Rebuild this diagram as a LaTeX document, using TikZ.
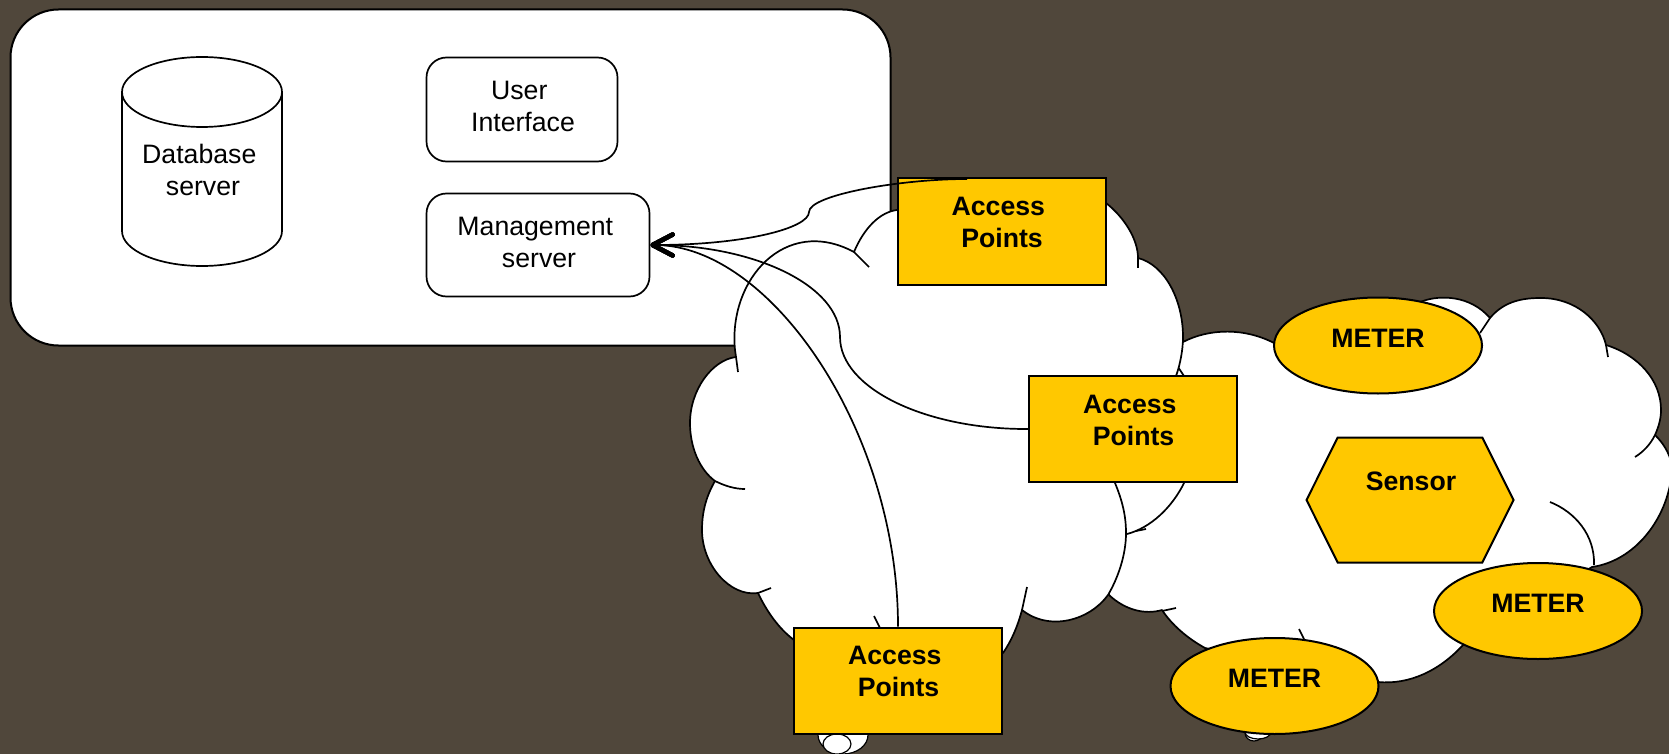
\documentclass[tikz,border=0pt]{standalone}
\usepackage{fontspec}
\setmainfont{Liberation Sans}
\usetikzlibrary{arrows.meta,shapes.geometric,shapes.symbols}
\definecolor{bgbrown}{HTML}{50473B}
\definecolor{boxyellow}{HTML}{FFC800}
\newcommand{\trailsp}{~\mbox{}}
\begin{document}
\begin{tikzpicture}[x=1pt, y=-1pt, line width=1.7pt,
    plaintext/.style={align=center, inner sep=0pt, font=\fontsize{26.67}{32}\selectfont},
    boldtext/.style={plaintext, font=\fontsize{26.67}{32}\selectfont\bfseries},
    roundbox/.style={draw, fill=white, rounded corners=20pt, inner sep=0pt},
    apbox/.style={draw, line width=2pt, fill=boxyellow, minimum width=208pt, minimum height=106pt, inner sep=0pt},
    meter/.style={draw, line width=2pt, fill=boxyellow, ellipse, minimum width=208pt, minimum height=96pt, inner sep=0pt},
    cloudpart/.style={draw, fill=white, line join=round},
    conn/.style={-{Straight Barb[length=20pt, width=21pt, line width=4.6pt, round]}}]

    \useasboundingbox (0,0) rectangle (1669,754);
    \fill[bgbrown] (0,0) rectangle (1669,755);

    % Server panel
    \node[draw, line width=2pt, fill=white, rounded corners=48pt, minimum width=880pt, minimum height=336pt, inner sep=0pt] (Panel) at (450.5,177.5) {};
    \draw[fill=white] (122,92) -- (122,231) .. controls (122,250.3) and (157.8,266) .. (202,266)
        .. controls (246.2,266) and (282,250.3) .. (282,231) -- (282,92) -- cycle;
    \draw[fill=white] (202,92) ellipse (80 and 35);
    \node[plaintext] (DBtext) at (203,170) {Database\trailsp\\server};
    \node[roundbox, minimum width=191pt, minimum height=104pt] (UI) at (522,109.5) {};
    \node[plaintext] (UItext) at (523,106) {User\trailsp\\Interface};
    \node[roundbox, minimum width=223pt, minimum height=103pt] (Mgmt) at (538,245) {};
    \node[plaintext] (Mgmttext) at (539,242) {Management\trailsp\\server};

    % Cloud on the right
    \fill[white, draw=black, line width=1.2pt] (1254,733) ellipse (9 and 8);
    \fill[white, draw=black, line width=1.2pt] (1258,732) ellipse (13 and 7);
    \path[cloudpart] (1109,595) -- (1100,450) -- (1170,345) -- (1183,342)
        .. controls (1210,328) and (1245,328) .. (1274,343)
        -- (1423,301)
        .. controls (1440,295) and (1470,295) .. (1490,318)
        .. controls (1505,300) and (1525,298) .. (1541,298)
        .. controls (1575,298) and (1600,320) .. (1606,345)
        .. controls (1638,355) and (1661,380) .. (1661,410)
        .. controls (1661,420) and (1658,428) .. (1655,435)
        .. controls (1663,443) and (1669,452) .. (1672,465)
        .. controls (1672,510) and (1640,560) .. (1592,567)
        -- (1463,645)
        .. controls (1440,670) and (1410,685) .. (1378,682)
        -- (1205,648)
        .. controls (1187,638) and (1172,625) .. (1162,610)
        .. controls (1145,615) and (1125,610) .. (1109,595) -- cycle;
    \draw (1490,318) -- (1480,333);
    \draw (1606,345) -- (1608,357);
    \draw (1655,435) .. controls (1650,445) and (1643,452) .. (1635,457);
    \draw (1594,565) .. controls (1595,535) and (1575,512) .. (1550,502);
    \draw (1127,534) .. controls (1150,528) and (1172,508) .. (1184.5,482);
    \draw (1136,531) -- (1146,529);
    \draw (1178,367) -- (1184,376);
    \draw (1299,629) -- (1304,639);
    \draw (1162,611) -- (1176,608);

    % Cloud in the middle
    \fill[white, draw=black, line width=1.2pt] (843,735) ellipse (25 and 19);
    \fill[white, draw=black, line width=1.2pt] (837,744) ellipse (14 and 10);
    \path[cloudpart] (735,350)
        .. controls (728,280) and (785,215) .. (854,252)
        .. controls (864,228) and (880,212) .. (897,210)
        .. controls (940,195) and (1060,190) .. (1106,203)
        .. controls (1125,218) and (1138,240) .. (1138,258)
        .. controls (1165,265) and (1183,300) .. (1183,337)
        .. controls (1183,350) and (1180,365) .. (1176,376)
        -- (1115,483)
        .. controls (1122,500) and (1126,515) .. (1126,533)
        .. controls (1126,555) and (1118,578) .. (1108,595)
        .. controls (1090,620) and (1050,632) .. (1022,610)
        .. controls (1018,625) and (1012,640) .. (1003,653)
        -- (794,640)
        .. controls (778,628) and (766,610) .. (758,593)
        .. controls (730,597) and (702,565) .. (702,530)
        .. controls (702,510) and (707,495) .. (715,481)
        .. controls (700,470) and (690,448) .. (690,423)
        .. controls (690,390) and (712,360) .. (736,357) -- cycle;
    \draw (854,252) -- (869,267);
    \draw (1138,258) -- (1138,268);
    \draw (736,357) -- (738,372);
    \draw (715,481) .. controls (725,486) and (735,489) .. (745,489);
    \draw (758,593) -- (771,588);
    \draw (1022,610) -- (1027,587);
    \draw (874,616) -- (880,628);

    % Access points
    \foreach \n/\x/\y in {1/1001.5/231.5, 2/1133/429, 3/898/680.5} {
        \node[apbox] (AP\n) at (\x,\y) {};
        \node[boldtext] (APtext\n) at ([yshift=9pt, xshift=.5pt]AP\n.center) {Access\trailsp\\Points};
    }

    % Meters
    \foreach \n/\x/\y in {1/1378/345.5, 2/1538/611, 3/1274.5/686} {
        \node[meter] (M\n) at (\x,\y) {};
        \node[boldtext] (Mtext\n) at ([yshift=7.5pt]M\n.center) {METER};
    }

    % Sensor
    \node[draw, line width=2pt, fill=boxyellow, signal, signal to=west and east, signal pointer angle=127, minimum width=207pt, minimum height=125pt, inner sep=0pt] (Sensor) at (1410,500) {};
    \node[boldtext] (Sensortext) at ([yshift=19pt, xshift=1pt]Sensor.center) {Sensor};

    % Connectors to the management server
    \coordinate (APtop) at (967,179);
    \draw[conn] (APtop) .. controls (900,179) and (809,195) .. (809,212)
        .. controls (809,228) and (745,245) .. (Mgmt.east);
    \draw[conn] (AP2.west) .. controls (925,429.5) and (840,388) .. (840,337)
        .. controls (840,286) and (755,245) .. (Mgmt.east);
    \draw[conn] (AP3.north) .. controls (898,430) and (770,245) .. (Mgmt.east);

\end{tikzpicture}
\end{document}
